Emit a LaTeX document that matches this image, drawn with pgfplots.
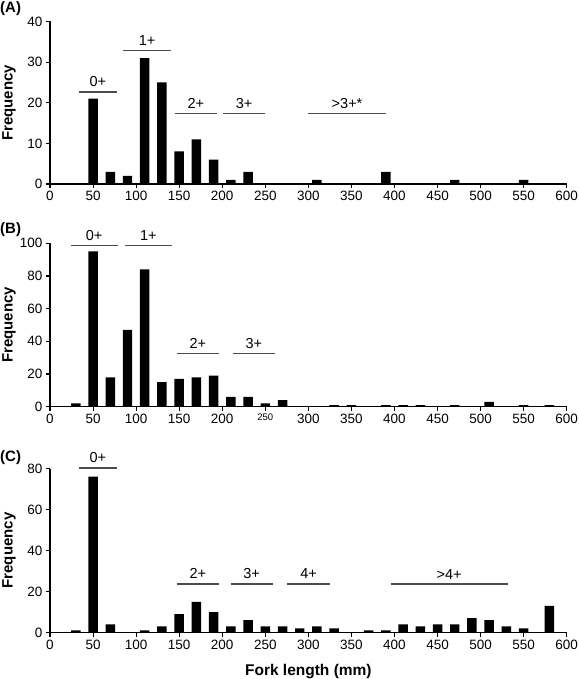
\documentclass[border=0pt]{standalone}
\usepackage{fontspec}
\setmainfont{Liberation Sans}
\usepackage{pgfplots}
\pgfplotsset{compat=1.18}
\definecolor{grpline}{gray}{0.3}
\pgfplotsset{
  panel/.style={
    scale only axis, width=516.7pt,
    axis lines=left, axis line style={-, line width=1.1pt},
    xmin=0, xmax=600, ymin=0,
    xtick={0,50,...,600},
    tick align=outside, major tick length=4pt,
    every tick/.style={black, line width=1.1pt},
    minor tick num=0,
    tick label style={font=\fontsize{13.5}{15}\selectfont},
    /pgf/number format/assume math mode=true,
    ybar, bar width=11,
    clip=false,
    ylabel={Frequency},
    ylabel style={font=\bfseries\fontsize{15}{17}\selectfont, at={(axis description cs:-0.0795,0.5)}, anchor=center},
  },
}
\newcommand{\grp}[4]{%
  \draw[grpline, line width=1.3pt] (axis cs:#1,#3) -- (axis cs:#2,#3)
    node[midway, above, inner sep=0pt, yshift=4.4pt, black, font=\fontsize{14.5}{16}\selectfont] {#4};}
\begin{document}
\begin{tikzpicture}
\path[use as bounding box] (0pt,0pt) rectangle (578pt,-679pt);
% Panel labels
\node[anchor=north west, inner sep=0pt, font=\bfseries\fontsize{15}{17}\selectfont] at (0pt,-1pt) {(A)};
\node[anchor=north west, inner sep=0pt, font=\bfseries\fontsize{15}{17}\selectfont] at (0pt,-222pt) {(B)};
\node[anchor=north west, inner sep=0pt, font=\bfseries\fontsize{15}{17}\selectfont] at (0pt,-450pt) {(C)};

% ---------- Panel A ----------
\begin{axis}[panel, at={(50pt,-184pt)}, anchor=south west, height=162.5pt,
  ymax=40, ytick={0,10,20,30,40}]
\addplot[fill=black, draw=none] coordinates {
  (50,21) (70,3) (90,2) (110,31) (130,25) (150,8) (170,11) (190,6)
  (210,1) (230,3) (310,1) (390,3) (470,1) (550,1)};
\grp{33.7}{77.4}{22.65}{0+}
\grp{85.2}{140.5}{32.9}{1+}
\grp{145.2}{193.6}{17.35}{2+}
\grp{201.3}{249.7}{17.35}{3+}
\grp{300}{389.9}{17.4}{>3+*}
\end{axis}

% ---------- Panel B ----------
\begin{axis}[panel, at={(50pt,-406.7pt)}, anchor=south west, height=163.4pt,
  ymax=100, ytick={0,20,40,60,80,100},
  xticklabels={0,50,100,150,200,{\fontsize{9.5}{11}\selectfont 250},300,350,400,450,500,550,600}]
\addplot[fill=black, draw=none] coordinates {
  (30,2) (50,95) (70,18) (90,47) (110,84) (130,15) (150,17) (170,18) (190,19)
  (210,6) (230,6) (250,2) (270,4) (330,1) (350,1) (390,1) (410,1) (430,1)
  (470,1) (510,3) (550,1) (580,1)};
\grp{24}{78.6}{98.6}{0+}
\grp{87.1}{141.3}{98.6}{1+}
\grp{147.1}{196.3}{32.5}{2+}
\grp{212.2}{261.3}{32.5}{3+}
\end{axis}

% ---------- Panel C ----------
\begin{axis}[panel, at={(50pt,-632.5pt)}, anchor=south west, height=164pt,
  ymax=80, ytick={0,20,40,60,80},
  xlabel={Fork length (mm)},
  xlabel style={font=\bfseries\fontsize{15.5}{17}\selectfont, at={(axis description cs:0.5,-0.265)}, anchor=base}]
\addplot[fill=black, draw=none] coordinates {
  (30,1) (50,76) (70,4) (110,1) (130,3) (150,9) (170,15) (190,10)
  (210,3) (230,6) (250,3) (270,3) (290,2) (310,3) (330,2) (370,1) (390,1)
  (410,4) (430,3) (450,4) (470,4) (490,7) (510,6) (530,3) (550,2) (580,13)};
\grp{33.7}{77.4}{80.3}{0+}
\grp{147.1}{196.3}{23.7}{2+}
\grp{209.8}{258.6}{23.7}{3+}
\grp{275.6}{325.2}{23.7}{4+}
\grp{395.6}{531.5}{23.6}{>4+}
\end{axis}
\end{tikzpicture}
\end{document}
